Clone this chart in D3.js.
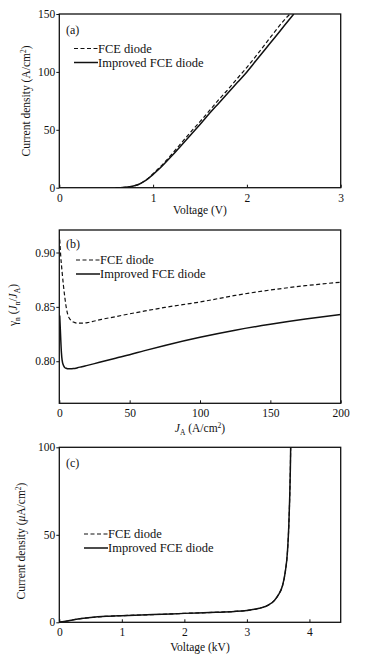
<!DOCTYPE html>
<html><head><meta charset="utf-8">
<script src="https://cdn.jsdelivr.net/npm/d3@7"></script>
<style>
html,body{margin:0;padding:0;background:#fff;}
svg text{font-family:"Liberation Serif","Times New Roman",serif;fill:#111;}
</style></head>
<body><svg id="c" width="367" height="660"></svg>
<script>
// Panel (a): forward I-V
const aVolt = [0.6, 0.65, 0.7, 0.75, 0.8, 0.85, 0.9, 0.95, 1.0, 1.1, 1.2, 1.3, 1.4, 1.5, 1.6, 1.7, 1.8, 1.9, 2.0, 2.1, 2.2, 2.3, 2.4, 2.5];
const aImproved = [0, 0.05, 0.3, 0.8, 1.6, 3.0, 5.2, 8.0, 11.5, 19, 27.5, 36.5, 45.5, 54.5, 64, 73, 82, 91, 100, 110, 120, 130, 140, 150];
const aFCEVolt = [0.6, 0.65, 0.7, 0.75, 0.8, 0.85, 0.9, 0.95, 1.0, 1.1, 1.2, 1.3, 1.4, 1.5, 1.6, 1.7, 1.8, 1.9, 2.0, 2.1, 2.2, 2.3, 2.4, 2.46];
const aFCE = [0, 0.05, 0.3, 0.8, 1.6, 3.0, 5.3, 8.2, 12, 20, 29, 38.5, 48, 57, 66.5, 76, 85, 94.5, 104, 114, 124.5, 135, 145, 150];
const aXTicks = [0, 1, 2, 3];
const aYTicks = [0, 50, 100, 150];

// Panel (b): injection efficiency vs J_A
const bJ = [0.3, 1, 2, 3, 4, 5, 6, 8, 10, 13, 16, 20, 25, 30, 40, 50, 60, 75, 100, 125, 150, 175, 200];
const bFCE = [0.912, 0.897, 0.882, 0.869, 0.858, 0.849, 0.843, 0.838, 0.836, 0.835, 0.835, 0.8355, 0.837, 0.8385, 0.841, 0.8436, 0.846, 0.8495, 0.8545, 0.8605, 0.8655, 0.8695, 0.8727];
const bImpJ = [0.3, 0.7, 1, 1.5, 2, 3, 4, 5, 6, 8, 10, 13, 16, 20, 25, 30, 40, 50, 60, 75, 100, 125, 150, 175, 200];
const bImproved = [0.842, 0.830, 0.821, 0.808, 0.801, 0.796, 0.794, 0.7935, 0.793, 0.793, 0.7932, 0.794, 0.795, 0.7962, 0.7978, 0.7995, 0.8028, 0.806, 0.8095, 0.8145, 0.822, 0.8285, 0.834, 0.8388, 0.843];
const bXTicks = [0, 50, 100, 150, 200];
const bYTicks = [0.80, 0.85, 0.90];

// Panel (c): reverse blocking
const cVolt = [0, 0.1, 0.25, 0.5, 0.75, 1.0, 1.5, 2.0, 2.5, 2.8, 3.0, 3.2, 3.35, 3.44, 3.5, 3.57, 3.61, 3.65, 3.67, 3.685, 3.695, 3.7];
const cImproved = [0, 0.6, 1.6, 2.7, 3.4, 3.8, 4.4, 5.1, 5.7, 6.2, 6.8, 8.0, 10.0, 12.5, 15.5, 21, 28, 41, 55, 72, 88, 100];
const cFCE = [0, 0.6, 1.6, 2.7, 3.4, 3.8, 4.4, 5.1, 5.7, 6.2, 6.8, 8.0, 10.0, 12.5, 15.5, 21, 28, 41, 55, 72, 88, 100];
const cXTicks = [0, 1, 2, 3, 4];
const cYTicks = [0, 50, 100];

const legendNames = ["FCE diode", "Improved FCE diode"];

const svg = d3.select("#c");
const L = 59.3, R = 340.7;

function panel(opt) {
  const g = svg.append("g");
  const x = d3.scaleLinear().domain(opt.xd).range([L, R]);
  const y = d3.scaleLinear().domain(opt.yd).range([opt.bot, opt.top]);
  const clipId = "clip" + opt.id;
  g.append("clipPath").attr("id", clipId).append("rect")
    .attr("x", L).attr("y", opt.top).attr("width", R - L).attr("height", opt.bot - opt.top);

  const xa = g.append("g").attr("transform", `translate(0,${opt.bot})`)
    .call(d3.axisBottom(x).tickValues(opt.xt).tickSize(-3).tickPadding(6).tickFormat(opt.xf || d3.format("d")));
  const ya = g.append("g").attr("transform", `translate(${L},0)`)
    .call(d3.axisLeft(y).tickValues(opt.yt).tickSize(3).tickPadding(1).tickFormat(opt.yf || d3.format("d")));
  [xa, ya].forEach(a => {
    a.select(".domain").remove();
    a.selectAll(".tick line").attr("stroke", "#111").attr("stroke-width", 1);
    a.selectAll(".tick text").attr("font-size", 11.5).attr("fill", "#111")
      .style("font-family", '"Liberation Serif",serif');
  });
  g.append("rect").attr("x", L).attr("y", opt.top).attr("width", R - L).attr("height", opt.bot - opt.top)
    .attr("fill", "none").attr("stroke", "#111").attr("stroke-width", 1.3);

  const line = d3.line().x(d => x(d[0])).y(d => y(d[1])).curve(d3.curveMonotoneX);
  const lg = g.append("g").attr("clip-path", `url(#${clipId})`);
  lg.append("path").attr("d", line(d3.zip(opt.fx, opt.fy))).attr("fill", "none")
    .attr("stroke", "#111").attr("stroke-width", 1.2).attr("stroke-dasharray", "4,2.5");
  lg.append("path").attr("d", line(d3.zip(opt.ix, opt.iy))).attr("fill", "none")
    .attr("stroke", "#111").attr("stroke-width", 1.5);

  g.append("text").attr("x", 66).attr("y", opt.tagY).attr("font-size", 12).text(opt.tag);
  const lx = opt.legX;
  legendNames.forEach((n, i) => {
    const ly = opt.legY + i * 14;
    g.append("line").attr("x1", lx).attr("x2", lx + 24).attr("y1", ly).attr("y2", ly)
      .attr("stroke", "#111").attr("stroke-width", i === 0 ? 1.2 : 1.5)
      .attr("stroke-dasharray", i === 0 ? "4,2.5" : null);
    g.append("text").attr("x", lx + 24).attr("y", ly + 4).attr("font-size", 12.5).text(n);
  });
  return g;
}

// (a)
const ga = panel({id: "a", xd: [0, 3], yd: [0, 150], top: 14, bot: 187.7, xt: aXTicks, yt: aYTicks,
  fx: aFCEVolt, fy: aFCE, ix: aVolt, iy: aImproved, tag: "(a)", tagY: 34, legX: 74, legY: 48.5});
ga.append("text").attr("x", 200).attr("y", 214).attr("text-anchor", "middle").attr("font-size", 11.5).text("Voltage (V)");
{
  const t = ga.append("text").attr("transform", "translate(30,101) rotate(-90)").attr("text-anchor", "middle").attr("font-size", 11.5);
  t.append("tspan").text("Current density (A/cm");
  t.append("tspan").attr("font-size", 7.5).attr("dy", -4).text("2");
  t.append("tspan").attr("dy", 4).text(")");
}

// (b)
const gb = panel({id: "b", xd: [0, 200], yd: [0.7613, 0.9207], top: 230, bot: 403.3, xt: bXTicks, yt: bYTicks,
  yf: d3.format(".2f"), fx: bJ, fy: bFCE, ix: bImpJ, iy: bImproved, tag: "(b)", tagY: 248, legX: 76, legY: 260});
{
  const t = gb.append("text").attr("x", 200).attr("y", 432).attr("text-anchor", "middle").attr("font-size", 11.5);
  t.append("tspan").attr("font-style", "italic").text("J");
  t.append("tspan").attr("font-size", 7.5).attr("dy", 3).text("A");
  t.append("tspan").attr("dy", -3).text(" (A/cm");
  t.append("tspan").attr("font-size", 7.5).attr("dy", -4).text("2");
  t.append("tspan").attr("dy", 4).text(")");
}
{
  const t = gb.append("text").attr("transform", "translate(17,305) rotate(-90)").attr("text-anchor", "middle").attr("font-size", 11.5);
  t.append("tspan").text("γ");
  t.append("tspan").attr("font-size", 7.5).attr("dy", 3).text("n");
  t.append("tspan").attr("dy", -3).text(" (");
  t.append("tspan").attr("font-style", "italic").text("J");
  t.append("tspan").attr("font-size", 7.5).attr("dy", 3).text("n");
  t.append("tspan").attr("dy", -3).text("/");
  t.append("tspan").attr("font-style", "italic").text("J");
  t.append("tspan").attr("font-size", 7.5).attr("dy", 3).text("A");
  t.append("tspan").attr("dy", -3).text(")");
}

// (c)
const gc = panel({id: "c", xd: [0, 4.5], yd: [0, 100], top: 447.3, bot: 622.3, xt: cXTicks, yt: cYTicks,
  fx: cVolt, fy: cFCE, ix: cVolt, iy: cImproved, tag: "(c)", tagY: 467, legX: 84, legY: 534});
gc.append("text").attr("x", 200).attr("y", 651).attr("text-anchor", "middle").attr("font-size", 11.5).text("Voltage (kV)");
{
  const t = gc.append("text").attr("transform", "translate(25,541) rotate(-90)").attr("text-anchor", "middle").attr("font-size", 11.5);
  t.append("tspan").text("Current density (");
  t.append("tspan").attr("font-style", "italic").text("μ");
  t.append("tspan").text("A/cm");
  t.append("tspan").attr("font-size", 7.5).attr("dy", -4).text("2");
  t.append("tspan").attr("dy", 4).text(")");
}
</script></body></html>
